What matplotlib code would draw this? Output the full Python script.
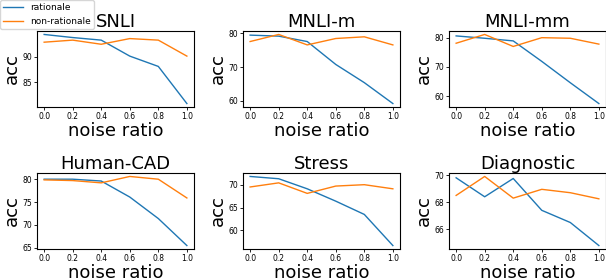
import matplotlib
matplotlib.use("Agg")
import matplotlib.pyplot as plt

noise = [0.0, 0.2, 0.4, 0.6, 0.8, 1.0]
titles = ["SNLI", "MNLI-m", "MNLI-mm", "Human-CAD", "Stress", "Diagnostic"]
rationale = [
    [94.3, 93.7, 93.2, 90.1, 88.1, 80.9],
    [79.5, 79.2, 77.6, 70.8, 65.4, 59.2],
    [80.6, 79.8, 78.9, 71.9, 64.6, 57.5],
    [80.0, 80.0, 79.6, 76.1, 71.4, 65.5],
    [71.8, 71.3, 69.1, 66.4, 63.5, 56.7],
    [69.8, 68.4, 69.75, 67.4, 66.5, 64.8],
]
non_rationale = [
    [92.8, 93.2, 92.4, 93.5, 93.2, 90.1],
    [77.6, 79.7, 76.6, 78.5, 79.0, 76.6],
    [78.1, 81.1, 77.0, 80.0, 79.8, 77.8],
    [79.85, 79.7, 79.2, 80.6, 80.0, 75.9],
    [69.5, 70.4, 68.1, 69.7, 70.0, 69.1],
    [68.5, 69.9, 68.3, 68.95, 68.7, 68.25],
]
yticks = [[85, 90], [60, 70, 80], [60, 70, 80], [65, 70, 75, 80], [60, 65, 70], [66, 68, 70]]

W, H = 606, 280
fig = plt.figure(figsize=(W / 100, H / 100), dpi=100)
lefts = [37, 243, 449]
tops = [31, 173]
aw, ah = 157, 76
handles = None
for i in range(6):
    r, c = divmod(i, 3)
    ax = fig.add_axes([lefts[c] / W, 1 - (tops[r] + ah) / H, aw / W, ah / H])
    l1, = ax.plot(noise, rationale[i], color="#1f77b4", lw=1.0, label="rationale")
    l2, = ax.plot(noise, non_rationale[i], color="#ff7f0e", lw=1.0, label="non-rationale")
    handles = [l1, l2]
    ax.set_title(titles[i], fontsize=13, pad=3)
    ax.set_xlabel("noise ratio", fontsize=13, labelpad=1)
    ax.set_ylabel("acc", fontsize=13, labelpad=1)
    ax.set_xticks(noise)
    ax.set_yticks(yticks[i])
    ax.tick_params(labelsize=5.5, length=2, pad=1.5, width=0.6)
    for s in ax.spines.values():
        s.set_linewidth(0.8)

fig.legend(handles, ["rationale", "non-rationale"], loc="upper left",
           bbox_to_anchor=(0, 1), fontsize=6.5, frameon=True, borderpad=0.35,
           handlelength=2.2, labelspacing=0.55, borderaxespad=0)
fig.savefig("out.png", dpi=100)
